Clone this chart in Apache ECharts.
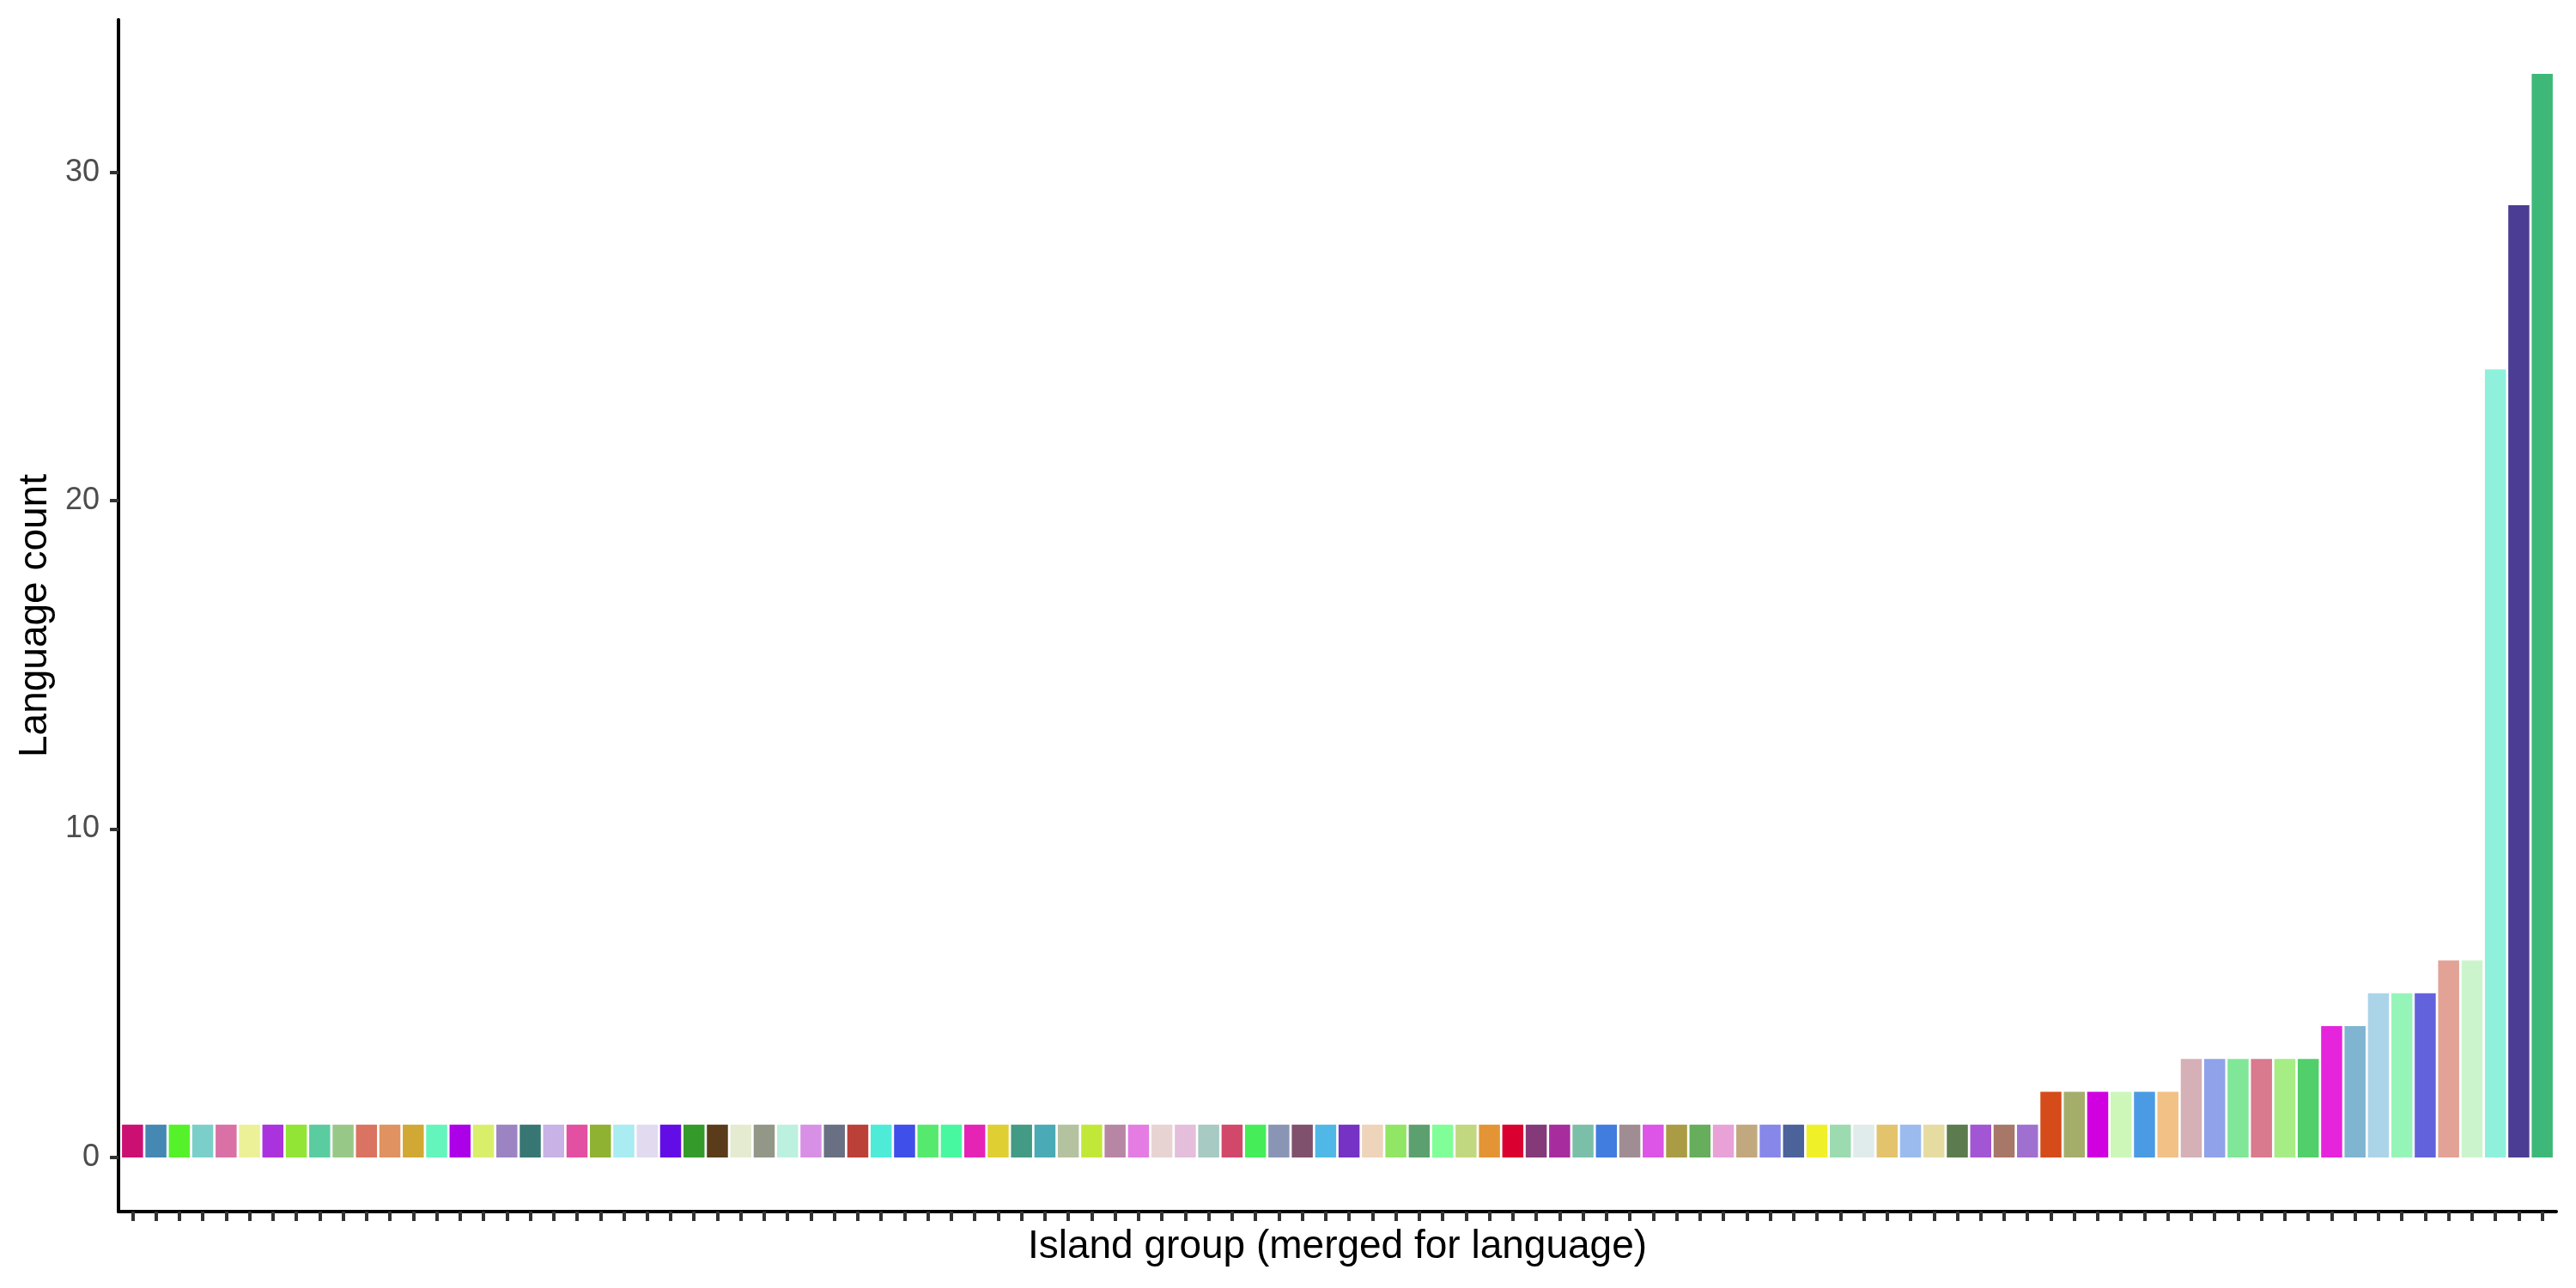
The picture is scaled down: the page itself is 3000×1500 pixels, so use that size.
<!DOCTYPE html>
<html>
<head>
<meta charset="utf-8">
<script src="https://cdn.jsdelivr.net/npm/echarts@6/dist/echarts.min.js"></script>
<style>
html,body{margin:0;padding:0;background:#fff;}
#chart{width:3000px;height:1500px;}
</style>
</head>
<body>
<div id="chart"></div>
<script>
// Island groups (unlabelled on the axis), ordered by language count
const languageCounts = [
  1,1,1,1,1,1,1,1,1,1, 1,1,1,1,1,1,1,1,1,1,
  1,1,1,1,1,1,1,1,1,1, 1,1,1,1,1,1,1,1,1,1,
  1,1,1,1,1,1,1,1,1,1, 1,1,1,1,1,1,1,1,1,1,
  1,1,1,1,1,1,1,1,1,1, 1,1,1,1,1,1,1,1,1,1,
  1,1,
  2,2,2,2,2,2,
  3,3,3,3,3,3,
  4,4,
  5,5,5,
  6,6,
  24,29,33
];
const barColors = [
  '#cc0f73','#4588b3','#55f22c','#7bcfca','#d971a6','#ecf197','#aa33dd','#92e534','#5bcc9f','#98c888',
  '#da7362','#e09260','#d1a833','#64f5bc','#ab00e8','#d9ef6a','#9c84c3','#387673','#c8b2e6','#e350a1',
  '#8fb232','#a9ecf1','#e2daef','#630de6','#349a2a','#5a3c1a','#e5ebd0','#939787','#bcf0df','#d890e6',
  '#6a7083','#bb4038','#4eebd8','#3e50e9','#55ea6e','#48f8a0','#e524b6','#dfcf33','#439a85','#4aaab5',
  '#b5c2a0','#c1e838','#b886a5','#e47ce3','#e8d3d3','#e4bedb','#a7cac2','#d2486b','#45ee58','#8a95b6',
  '#7f516c','#50b8e6','#7532c4','#eed4bb','#91e665','#5da06f','#80ff98','#c2d880','#e39535','#da0030',
  '#843a78','#a72d9e','#7bbfa8','#407ddf','#a08d93','#dc55e6','#aa9c44','#66ad5c','#e9a2d7','#c1a87f',
  '#8787e9','#4b629b','#f0f028','#9cdbb0','#e0ebeb','#e3c46d','#9bbbef','#e6dca2','#5c7b4e','#a356d3',
  '#a77768','#a070d0',
  '#d54b1a','#a5ad6b','#d000e0','#ccf7b9','#4a9be3','#f2c186',
  '#d5b0b7','#8fa2ea','#80e698','#d97a8e','#a5ed84','#51cf6b',
  '#e524dc','#7fb5d1',
  '#acd4e8','#95f5b8','#6262dd',
  '#e2a296','#ccf4cc',
  '#8ff0dc','#4b3d93','#3db878'
];
const yTicks = [0, 10, 20, 30];
const xTitle = 'Island group (merged for language)';
const yTitle = 'Language count';

const positions = languageCounts.map((v, i) => i + 1);
const seriesData = languageCounts.map((v, i) => ({
  value: [positions[i], v],
  itemStyle: { color: barColors[i] }
}));

const chart = echarts.init(document.getElementById('chart'), null, { renderer: 'canvas' });
chart.setOption({
  animation: false,
  backgroundColor: '#ffffff',
  grid: { left: 138, right: 23, top: 23, bottom: 89, containLabel: false },
  xAxis: {
    type: 'value',
    min: 0.4,
    max: positions.length + 0.6,
    name: xTitle,
    nameLocation: 'middle',
    nameGap: 18,
    nameTextStyle: { fontFamily: 'Liberation Sans', fontSize: 46, color: '#000000', verticalAlign: 'top' },
    axisLine: { show: true, onZero: false, lineStyle: { color: '#000000', width: 4 } },
    axisTick: { show: true, length: 11, customValues: positions, lineStyle: { color: '#333333', width: 4 } },
    axisLabel: { show: false },
    splitLine: { show: false }
  },
  yAxis: {
    type: 'value',
    min: -1.65,
    max: 34.65,
    name: yTitle,
    nameLocation: 'middle',
    nameGap: 74,
    nameRotate: 90,
    nameTextStyle: { fontFamily: 'Liberation Sans', fontSize: 46, color: '#000000' },
    axisLine: { show: true, onZero: false, lineStyle: { color: '#000000', width: 4 } },
    axisTick: { show: true, length: 10, customValues: yTicks, lineStyle: { color: '#333333', width: 4 } },
    axisLabel: { show: true, customValues: yTicks, margin: 22, fontFamily: 'Liberation Sans', fontSize: 36, color: '#4d4d4d' },
    splitLine: { show: false }
  },
  series: [{
    type: 'bar',
    data: seriesData,
    barWidth: 24.5,
    itemStyle: { borderWidth: 0 }
  }]
});
</script>
</body>
</html>
